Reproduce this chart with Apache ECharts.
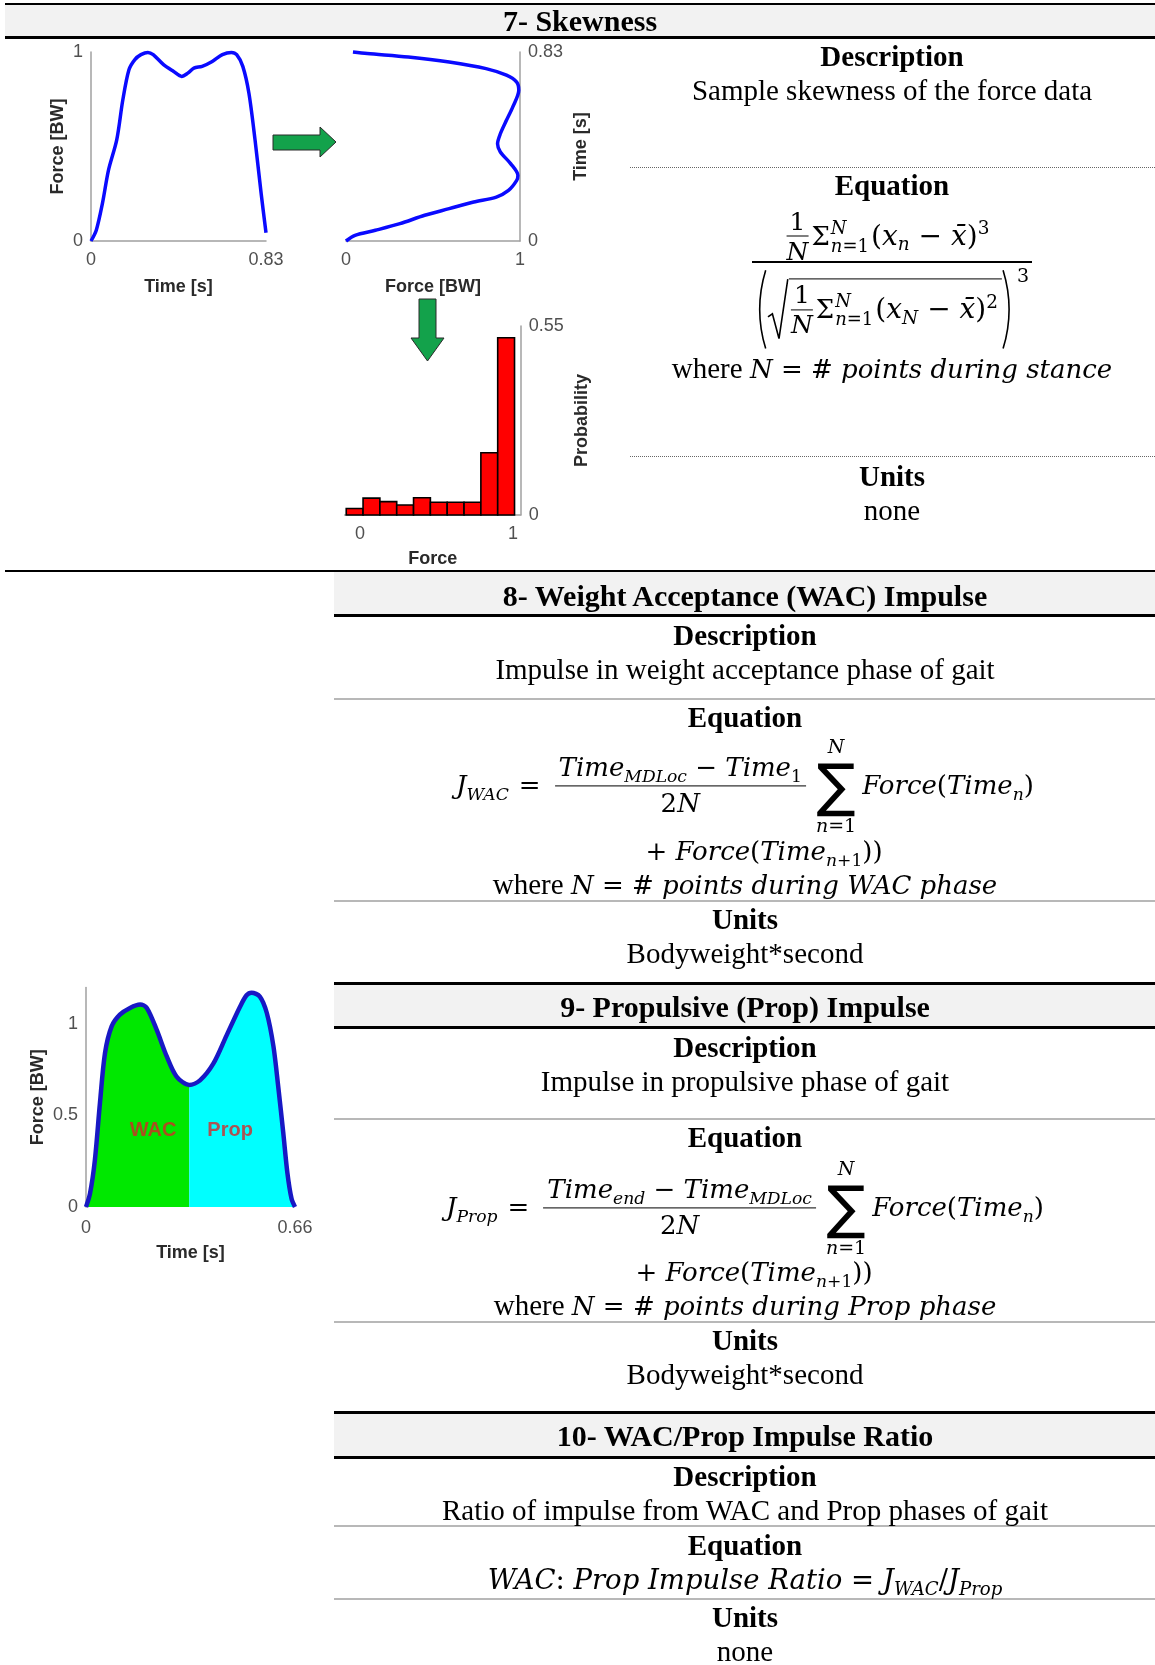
<!DOCTYPE html>
<html>
<head>
<meta charset="utf-8">
<title>Skewness and impulse features</title>
<script src="https://cdn.jsdelivr.net/npm/echarts@6.0.0/dist/echarts.min.js"></script>
<style>
  html, body { margin: 0; padding: 0; background: #fff; }
  #page { position: relative; width: 1155px; height: 1665px; overflow: hidden; }
  #chart { position: absolute; left: 0; top: 0; width: 1155px; height: 1665px; }
  .ln { position: absolute; background: #000; }
  .gl { position: absolute; background: #b8b8b8; height: 2px; left: 334px; width: 821px; }
  .dl { position: absolute; border-top: 1px dotted #666; left: 630px; width: 525px; height: 0; }
  .band { position: absolute; background: #f2f2f2; }
  .t { position: absolute; transform: translate(-50%, -50%); white-space: nowrap;
       font-family: 'Liberation Serif', 'Times New Roman', serif; font-size: 29px; line-height: 1.15; color: #000; }
  .b { font-weight: bold; }
  .h { font-weight: bold; font-size: 30px; }
  .m { font-family: 'DejaVu Serif', serif; font-style: italic; font-size: 26px; }
  .m7 { font-size: 28px; }
  .up { font-style: normal; }
  sub { font-size: 0.66em; vertical-align: -0.32em; line-height: 0; }
  sup { font-size: 0.66em; vertical-align: 0.55em; line-height: 0; }
  .row { display: inline-flex; align-items: center; }
  .fr { display: inline-flex; flex-direction: column; align-items: center; line-height: 1; }
  .fr > span:first-child { border-bottom: 1.5px solid #000; padding: 0 3px 2px; }
  .fr > span:last-child { padding-top: 2px; }
  .sfr { font-size: 25px; margin-right: 3px; }
  .sig { font-size: 26px; font-style: normal; }
  .lim { display: inline-flex; flex-direction: column; font-size: 18px; line-height: 1; margin: 0 2px 0 1px; }
  .paren { width: 12px; height: 80px; fill: none; stroke: #000; stroke-width: 1.6; }
  .rad { width: 22px; height: 62px; fill: none; stroke: #000; stroke-width: 1.6; }
  .ov { height: 62px; box-sizing: border-box; border-top: 1.5px solid #000; padding: 0 4px 0 2px; }
  .p3 { align-self: flex-start; font-size: 19px; margin: -4px 0 0 3px; }
  .bfr { display: inline-flex; flex-direction: column; align-items: center; line-height: 1.05; margin: 0 4px; }
  .bfr > span:first-child { border-bottom: 1.5px solid #000; padding: 0 4px 4px; }
  .bfr > span:last-child { padding-top: 4px; }
  .bsum { display: inline-flex; flex-direction: column; align-items: center; line-height: 1; margin: 0 6px; }
  .sgb { font-family: 'DejaVu Sans', sans-serif; font-style: normal; font-size: 58px; line-height: 0.9; }
  .lm { font-size: 19px; margin: 1px 0 3px; }
  .lm + .sgb + .lm { margin: 5px 0 0; }
  .op { font-style: normal; margin: 0 10px; }
  .r10 { font-size: 27.5px; }
</style>
</head>
<body>
<div id="page">
  <!-- section 7 frame -->
  <div class="band" style="left:5px;top:4px;width:1150px;height:33px"></div>
  <div class="ln" style="left:5px;top:3px;width:1150px;height:1.5px"></div>
  <div class="ln" style="left:5px;top:36px;width:1150px;height:2.5px"></div>
  <div class="dl" style="top:167px"></div>
  <div class="dl" style="top:456px"></div>
  <div class="ln" style="left:5px;top:570px;width:1150px;height:2px"></div>

  <!-- section 8 frame -->
  <div class="band" style="left:334px;top:572px;width:821px;height:43px"></div>
  <div class="ln" style="left:334px;top:614px;width:821px;height:2.5px"></div>
  <div class="gl" style="top:698px"></div>
  <div class="gl" style="top:900px"></div>

  <!-- section 9 frame -->
  <div class="band" style="left:334px;top:984px;width:821px;height:43px"></div>
  <div class="ln" style="left:334px;top:982px;width:821px;height:2.5px"></div>
  <div class="ln" style="left:334px;top:1026px;width:821px;height:2.5px"></div>
  <div class="gl" style="top:1118px"></div>
  <div class="gl" style="top:1321px"></div>

  <!-- section 10 frame -->
  <div class="band" style="left:334px;top:1413px;width:821px;height:44px"></div>
  <div class="ln" style="left:334px;top:1411px;width:821px;height:2.5px"></div>
  <div class="ln" style="left:334px;top:1456px;width:821px;height:2.5px"></div>
  <div class="gl" style="top:1525px"></div>
  <div class="gl" style="top:1598px"></div>

  <div id="chart"></div>

  <!-- section 7 text -->
  <div class="t h" style="left:580px;top:21px">7- Skewness</div>
  <div class="t b" style="left:892px;top:57px">Description</div>
  <div class="t" style="left:892px;top:91px">Sample skewness of the force data</div>
  <div class="t b" style="left:892px;top:186px">Equation</div>
  <div class="t m m7" style="left:888px;top:234px"><span class="row">
    <span class="fr sfr"><span class="up">1</span><span>N</span></span>
    <span class="sig">Σ</span><span class="lim"><span>N</span><span>n<span class="up">=1</span></span></span>
    <span><span class="up">(</span>x<sub>n</sub> <span class="up">−</span> x̄<span class="up">)</span><sup class="up">3</sup></span>
  </span></div>
  <div class="ln" style="left:752px;top:261px;width:280px;height:1.6px"></div>
  <div class="t m m7" style="left:892px;top:313px"><span class="row">
    <svg class="paren" viewBox="0 0 10 100" preserveAspectRatio="none"><path d="M9,1 Q-1,50 9,99" vector-effect="non-scaling-stroke"/></svg>
    <svg class="rad" viewBox="0 0 20 100" preserveAspectRatio="none"><path d="M1,62 L5,57 L11,97 L19,1" vector-effect="non-scaling-stroke"/></svg>
    <span class="ov row">
      <span class="fr sfr"><span class="up">1</span><span>N</span></span>
      <span class="sig">Σ</span><span class="lim"><span>N</span><span>n<span class="up">=1</span></span></span>
      <span><span class="up">(</span>x<sub>N</sub> <span class="up">−</span> x̄<span class="up">)</span><sup class="up">2</sup></span>
    </span>
    <svg class="paren" viewBox="0 0 10 100" preserveAspectRatio="none"><path d="M1,1 Q11,50 1,99" vector-effect="non-scaling-stroke"/></svg>
    <span class="up p3">3</span>
  </span></div>
  <div class="t" style="left:892px;top:369px">where <span class="m">N <span class="up">=</span> <span class="up">#</span> points during stance</span></div>
  <div class="t b" style="left:892px;top:477px">Units</div>
  <div class="t" style="left:892px;top:511px">none</div>

  <!-- section 8 text -->
  <div class="t h" style="left:745px;top:596px">8- Weight Acceptance (WAC) Impulse</div>
  <div class="t b" style="left:745px;top:636px">Description</div>
  <div class="t" style="left:745px;top:670px">Impulse in weight acceptance phase of gait</div>
  <div class="t b" style="left:745px;top:718px">Equation</div>
  <div class="t m" style="left:745px;top:786px"><span class="row">
    <span>J<sub>WAC</sub></span><span class="op">=</span>
    <span class="bfr"><span>Time<sub>MDLoc</sub> <span class="up">−</span> Time<sub class="up">1</sub></span><span><span class="up">2</span>N</span></span>
    <span class="bsum"><span class="lm">N</span><span class="sgb">∑</span><span class="lm">n<span class="up">=1</span></span></span>
    <span>Force<span class="up">(</span>Time<sub>n</sub><span class="up">)</span></span>
  </span></div>
  <div class="t m" style="left:764px;top:852px"><span class="up">+</span> Force<span class="up">(</span>Time<sub>n<span class="up">+1</span></sub><span class="up">))</span></div>
  <div class="t" style="left:745px;top:885px">where <span class="m">N <span class="up">=</span> <span class="up">#</span> points during WAC phase</span></div>
  <div class="t b" style="left:745px;top:920px">Units</div>
  <div class="t" style="left:745px;top:954px">Bodyweight*second</div>

  <!-- section 9 text -->
  <div class="t h" style="left:745px;top:1007px">9- Propulsive (Prop) Impulse</div>
  <div class="t b" style="left:745px;top:1048px">Description</div>
  <div class="t" style="left:745px;top:1082px">Impulse in propulsive phase of gait</div>
  <div class="t b" style="left:745px;top:1138px">Equation</div>
  <div class="t m" style="left:745px;top:1208px"><span class="row">
    <span>J<sub>Prop</sub></span><span class="op">=</span>
    <span class="bfr"><span>Time<sub>end</sub> <span class="up">−</span> Time<sub>MDLoc</sub></span><span><span class="up">2</span>N</span></span>
    <span class="bsum"><span class="lm">N</span><span class="sgb">∑</span><span class="lm">n<span class="up">=1</span></span></span>
    <span>Force<span class="up">(</span>Time<sub>n</sub><span class="up">)</span></span>
  </span></div>
  <div class="t m" style="left:754px;top:1273px"><span class="up">+</span> Force<span class="up">(</span>Time<sub>n<span class="up">+1</span></sub><span class="up">))</span></div>
  <div class="t" style="left:745px;top:1306px">where <span class="m">N <span class="up">=</span> <span class="up">#</span> points during Prop phase</span></div>
  <div class="t b" style="left:745px;top:1341px">Units</div>
  <div class="t" style="left:745px;top:1375px">Bodyweight*second</div>

  <!-- section 10 text -->
  <div class="t h" style="left:745px;top:1436px">10- WAC/Prop Impulse Ratio</div>
  <div class="t b" style="left:745px;top:1477px">Description</div>
  <div class="t" style="left:745px;top:1511px">Ratio of impulse from WAC and Prop phases of gait</div>
  <div class="t b" style="left:745px;top:1546px">Equation</div>
  <div class="t m r10" style="left:745px;top:1580px">WAC<span class="up">:</span> Prop Impulse Ratio <span class="up">=</span> J<sub>WAC</sub><span class="up">/</span>J<sub>Prop</sub></div>
  <div class="t b" style="left:745px;top:1618px">Units</div>
  <div class="t" style="left:745px;top:1652px">none</div>
</div>

<script>
// stance force curve (top left)
const stanceTime = [0, 0.025, 0.054, 0.083, 0.122, 0.151, 0.18, 0.208, 0.237, 0.27, 0.295, 0.344, 0.392, 0.43,
  0.459, 0.488, 0.527, 0.575, 0.623, 0.666, 0.691, 0.72, 0.749, 0.778, 0.807, 0.83];
const stanceForce = [0, 0.057, 0.198, 0.375, 0.535, 0.747, 0.906, 0.96, 0.986, 0.998, 0.986, 0.933, 0.897, 0.871,
  0.888, 0.915, 0.924, 0.95, 0.986, 0.998, 0.986, 0.924, 0.782, 0.535, 0.251, 0.044];

// same curve drawn with axes swapped
const rotForce = [0, 0.052, 0.169, 0.31, 0.452, 0.593, 0.734, 0.864, 0.934, 0.981, 0.988, 0.946, 0.887, 0.871,
  0.887, 0.922, 0.958, 0.993, 0.981, 0.922, 0.805, 0.593, 0.358, 0.122, 0.04];
const rotTime = [0, 0.025, 0.047, 0.076, 0.113, 0.142, 0.171, 0.193, 0.222, 0.266, 0.288, 0.34, 0.391, 0.427,
  0.471, 0.53, 0.588, 0.662, 0.698, 0.728, 0.757, 0.786, 0.808, 0.823, 0.83];

// force histogram
const binEdges = [-0.09, 0.02, 0.13, 0.24, 0.35, 0.46, 0.57, 0.68, 0.79, 0.90, 1.01];
const binProb = [0.019, 0.049, 0.039, 0.029, 0.050, 0.037, 0.037, 0.037, 0.181, 0.516];

// gait curve with WAC / Prop split
const gaitTime = [0, 0.0126, 0.028, 0.044, 0.06, 0.081, 0.107, 0.139, 0.171, 0.192, 0.223, 0.255, 0.286, 0.326,
  0.36, 0.402, 0.444, 0.486, 0.507, 0.523, 0.549, 0.571, 0.592, 0.607, 0.623, 0.636, 0.649, 0.66];
const gaitForce = [0, 0.073, 0.256, 0.567, 0.841, 0.987, 1.051, 1.088, 1.106, 1.088, 0.969, 0.823, 0.713, 0.667,
  0.692, 0.783, 0.938, 1.093, 1.157, 1.171, 1.15, 1.06, 0.877, 0.658, 0.404, 0.186, 0.046, 0];
const mdLocTime = 0.326;
const phaseNames = ['WAC', 'Prop'];

const zip = (a, b) => a.map((v, i) => [v, b[i]]);
const gaitPts = zip(gaitTime, gaitForce);

const axisGray = '#a0a0a0';
const tickFont = { color: '#505050', fontSize: 18, fontFamily: 'Liberation Sans, Arial, sans-serif' };
const nameFont = { color: '#2a2a2a', fontSize: 18, fontWeight: 'bold', fontFamily: 'Liberation Sans, Arial, sans-serif' };

function axis(gridIndex, min, max, ticks, extra) {
  return Object.assign({
    gridIndex: gridIndex,
    type: 'value',
    min: min,
    max: max,
    axisLine: { show: true, onZero: false, lineStyle: { color: axisGray, width: 1.5 } },
    axisTick: { show: false },
    splitLine: { show: false },
    axisLabel: Object.assign({ customValues: ticks, margin: 8 }, tickFont),
    nameLocation: 'middle',
    nameTextStyle: nameFont
  }, extra);
}

const xLab = (ticks, margin) => Object.assign({ customValues: ticks, margin: margin }, tickFont);

const chart = echarts.init(document.getElementById('chart'));

const option = {
  animation: false,
  grid: [
    { left: 91, top: 52, width: 175, height: 189 },
    { left: 346, top: 52, width: 174, height: 189 },
    { left: 344.7, top: 326, width: 175.95, height: 189 },
    { left: 86, top: 987.4, width: 209, height: 219.6 }
  ],
  xAxis: [
    axis(0, 0, 0.83, [0, 0.83], { name: 'Time [s]', nameGap: 37, axisLabel: xLab([0, 0.83], 10) }),
    axis(1, 0, 1, [0, 1], { name: 'Force [BW]', nameGap: 37, axisLabel: xLab([0, 1], 10) }),
    axis(2, -0.1, 1.05, [0, 1], { name: 'Force', nameGap: 35, axisLabel: xLab([0, 1], 10) }),
    axis(3, 0, 0.66, [0, 0.66], { name: 'Time [s]', nameGap: 37, axisLabel: xLab([0, 0.66], 12),
      axisLine: { show: false } })
  ],
  yAxis: [
    axis(0, 0, 1, [0, 1], { name: 'Force [BW]', nameGap: 24, nameRotate: 90 }),
    axis(1, 0, 0.83, [0, 0.83], { position: 'right', name: 'Time [s]', nameGap: 52, nameRotate: 90 }),
    axis(2, 0, 0.55, [0, 0.55], { position: 'right', name: 'Probability', nameGap: 52, nameRotate: 90 }),
    axis(3, 0, 1.2, [0, 0.5, 1], { name: 'Force [BW]', nameGap: 39, nameRotate: 90 })
  ],
  graphic: [
    {
      type: 'polygon', z: 10,
      shape: { points: [[273, 135], [320, 135], [320, 127], [336, 142], [320, 157], [320, 150], [273, 150]] },
      style: { fill: '#13a24b', stroke: '#2a2a2a', lineWidth: 1 }
    },
    {
      type: 'polygon', z: 10,
      shape: { points: [[419, 299], [436, 299], [436, 338], [444, 338], [427.5, 361], [411, 338], [419, 338]] },
      style: { fill: '#13a24b', stroke: '#2a2a2a', lineWidth: 1 }
    }
  ],
  series: [
    {
      type: 'line', xAxisIndex: 0, yAxisIndex: 0,
      data: zip(stanceTime, stanceForce),
      smooth: 0.3, showSymbol: false, clip: false,
      lineStyle: { color: '#0a0aff', width: 3.5 }
    },
    {
      type: 'line', xAxisIndex: 1, yAxisIndex: 1,
      data: zip(rotForce, rotTime),
      smooth: 0.3, showSymbol: false, clip: false,
      lineStyle: { color: '#0a0aff', width: 3.5 }
    },
    {
      type: 'custom', xAxisIndex: 2, yAxisIndex: 2,
      data: binProb.map((p, i) => [binEdges[i], binEdges[i + 1], p]),
      encode: { x: [0, 1], y: 2 },
      renderItem: function (params, api) {
        const a = api.coord([api.value(0), api.value(2)]);
        const b = api.coord([api.value(1), 0]);
        return {
          type: 'rect',
          shape: { x: a[0], y: a[1], width: b[0] - a[0], height: b[1] - a[1] },
          style: { fill: '#ff0000', stroke: '#000', lineWidth: 1.6 }
        };
      }
    },
    {
      type: 'line', xAxisIndex: 3, yAxisIndex: 3,
      data: gaitPts.filter(p => p[0] <= mdLocTime),
      smooth: 0.3, showSymbol: false,
      lineStyle: { width: 0 },
      areaStyle: { color: '#00e800', opacity: 1 }
    },
    {
      type: 'line', xAxisIndex: 3, yAxisIndex: 3,
      data: gaitPts.filter(p => p[0] >= mdLocTime),
      smooth: 0.3, showSymbol: false,
      lineStyle: { width: 0 },
      areaStyle: { color: '#00ffff', opacity: 1 }
    },
    {
      type: 'line', xAxisIndex: 3, yAxisIndex: 3, z: 5,
      data: gaitPts,
      smooth: 0.3, showSymbol: false, clip: false,
      lineStyle: { color: '#1818c4', width: 4.5 }
    },
    {
      type: 'scatter', xAxisIndex: 3, yAxisIndex: 3, z: 6,
      symbolSize: 0,
      data: [[0.212, 0.42, phaseNames[0]], [0.455, 0.42, phaseNames[1]]],
      label: {
        show: true, position: 'inside',
        formatter: p => p.value[2],
        color: '#d42828', fontSize: 20, fontWeight: 'bold',
        fontFamily: 'Liberation Sans, Arial, sans-serif'
      }
    }
  ]
};

chart.setOption(option);
window.addEventListener('resize', function () {
  chart.resize();
});
</script>
</body>
</html>
